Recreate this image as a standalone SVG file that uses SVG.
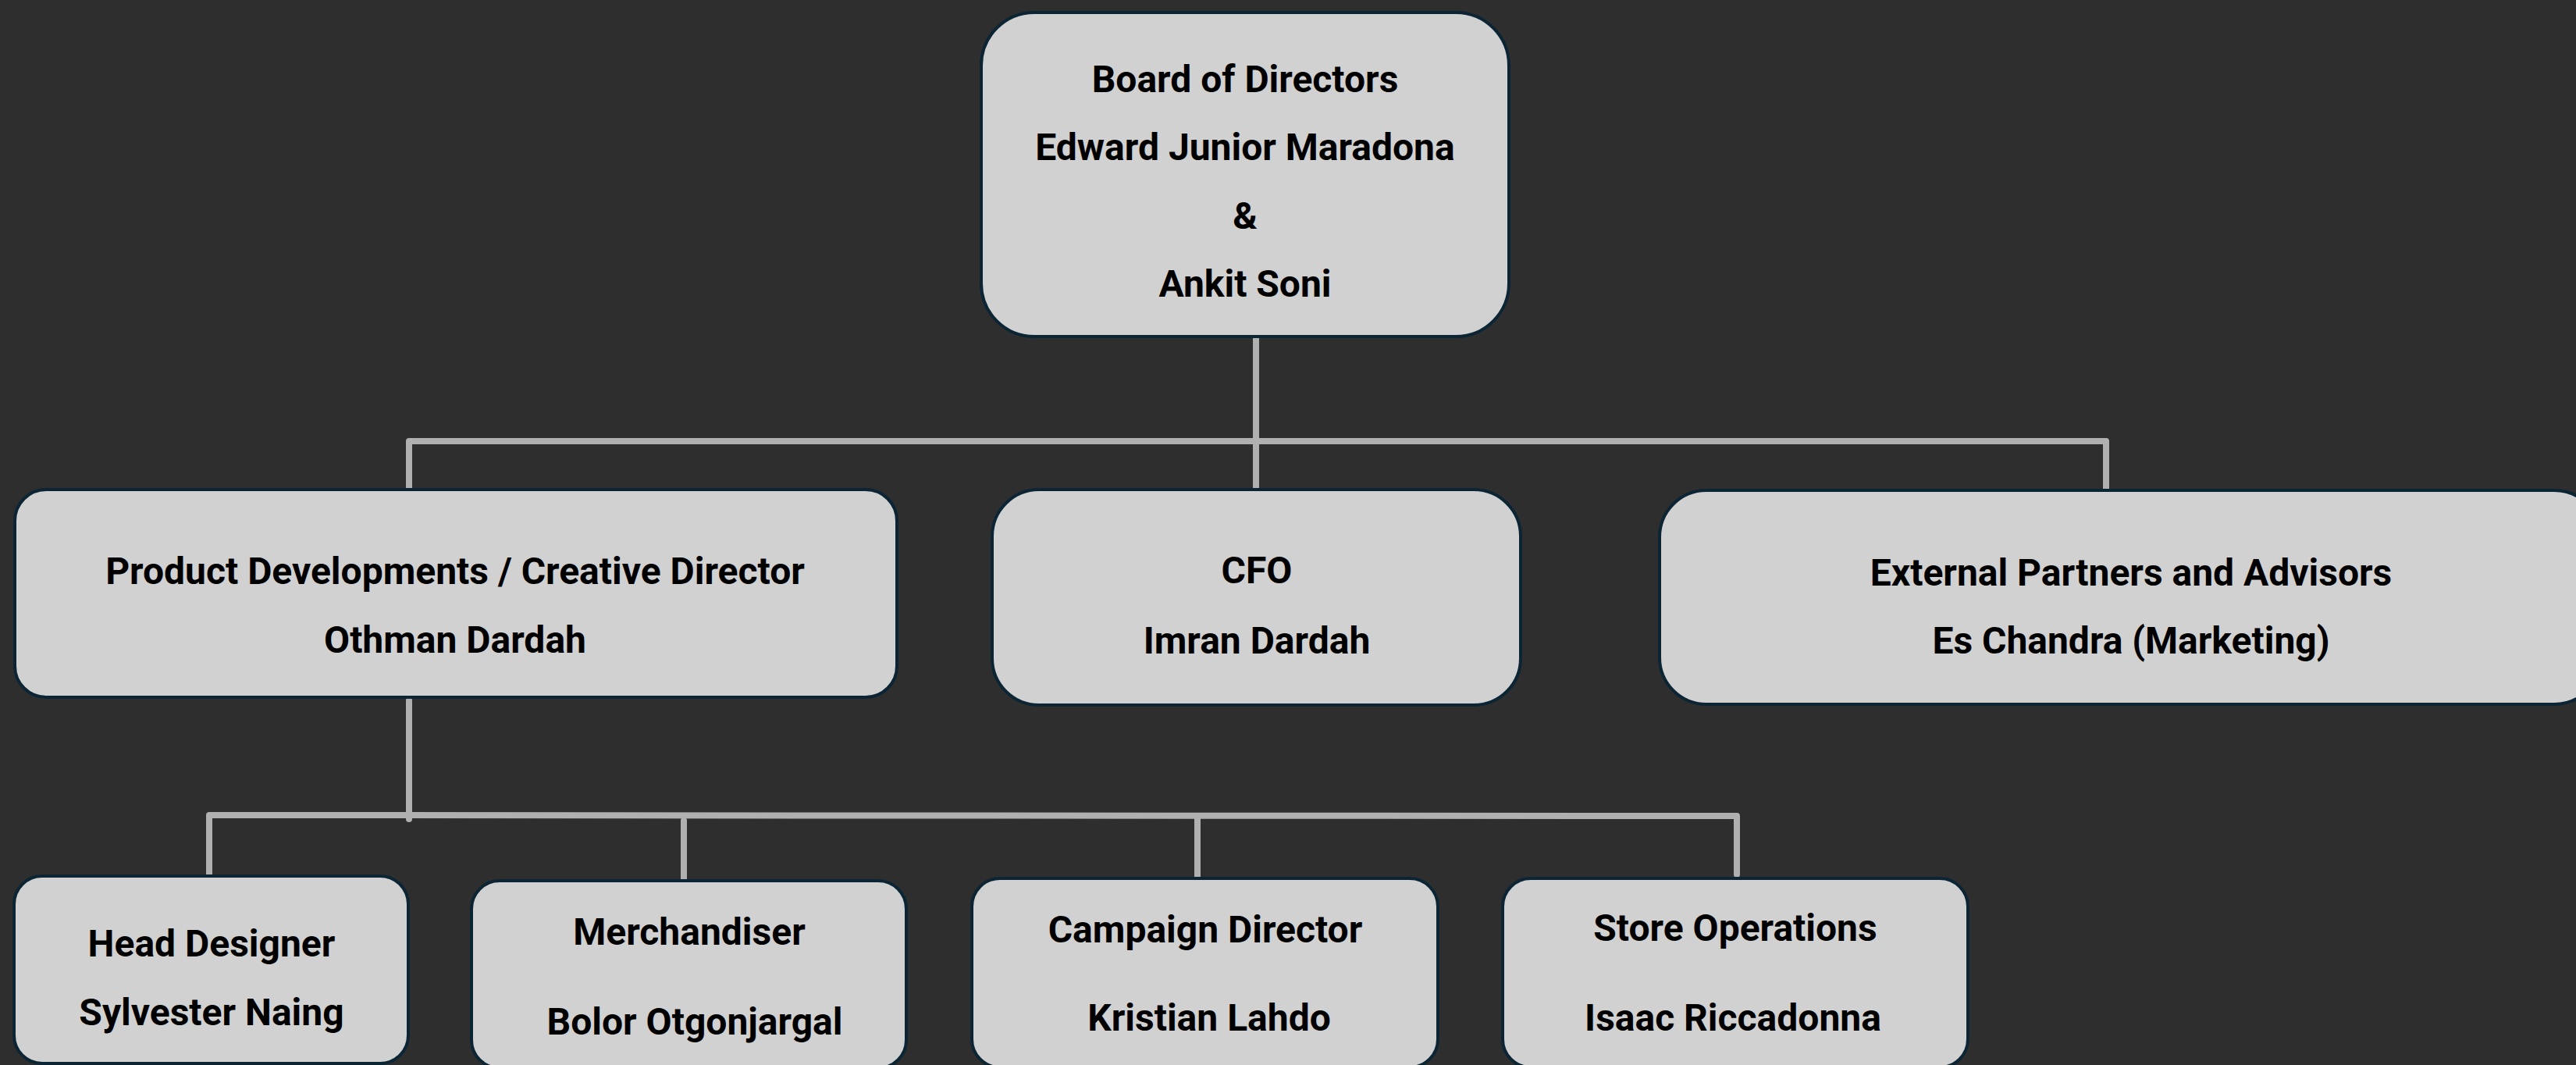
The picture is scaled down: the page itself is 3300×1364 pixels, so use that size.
<svg xmlns="http://www.w3.org/2000/svg" width="3300" height="1364" viewBox="0 0 3300 1364">
  <style>
    .box { fill: #d1d1d1; stroke: #0b2535; stroke-width: 4; }
    .lbl { font-family: Roboto, "Liberation Sans", sans-serif; font-weight: 700; font-size: 48px; fill: #000000; text-anchor: middle; }
    .link { stroke: #b0b0b0; stroke-width: 8; fill: none; stroke-linecap: round; stroke-linejoin: round; }
  </style>
  <rect width="3300" height="1364" fill="#2e2e2e"/>

  <!-- reporting lines -->
  <g id="connectors">
    <path class="link" d="M1609 434 V624"/>
    <path class="link" d="M524 638 V565 H2698 V638"/>
    <path class="link" d="M524 897 V1049"/>
    <path class="link" d="M268 1120 V1044 L2225 1045 V1120"/>
    <path class="link" d="M876 1051 V1126"/>
    <path class="link" d="M1534 1047 V1126"/>
  </g>

  <g id="board">
    <rect class="box" x="1257" y="16" width="676" height="415" rx="68"/>
    <text class="lbl" x="1595" y="118">Board of Directors</text>
    <text class="lbl" x="1595" y="205">Edward Junior Maradona</text>
    <text class="lbl" x="1595" y="293">&amp;</text>
    <text class="lbl" x="1595" y="380">Ankit Soni</text>
  </g>

  <g id="product-creative">
    <rect class="box" x="19" y="627" width="1130" height="266" rx="40"/>
    <text class="lbl" x="583" y="748">Product Developments / Creative Director</text>
    <text class="lbl" x="583" y="836">Othman Dardah</text>
  </g>

  <g id="cfo">
    <rect class="box" x="1271" y="627" width="677" height="276" rx="60"/>
    <text class="lbl" x="1610" y="747">CFO</text>
    <text class="lbl" x="1610" y="837">Imran Dardah</text>
  </g>

  <g id="external">
    <rect class="box" x="2126" y="628" width="1206" height="274" rx="60"/>
    <text class="lbl" x="2730" y="750">External Partners and Advisors</text>
    <text class="lbl" x="2730" y="837">Es Chandra (Marketing)</text>
  </g>

  <g id="head-designer">
    <rect class="box" x="18" y="1122" width="505" height="240" rx="36"/>
    <text class="lbl" x="271" y="1225">Head Designer</text>
    <text class="lbl" x="271" y="1313">Sylvester Naing</text>
  </g>

  <g id="merchandiser">
    <rect class="box" x="604" y="1128" width="557" height="240" rx="36"/>
    <text class="lbl" x="883" y="1210">Merchandiser</text>
    <text class="lbl" x="890" y="1325">Bolor Otgonjargal</text>
  </g>

  <g id="campaign">
    <rect class="box" x="1245" y="1125" width="597" height="242" rx="36"/>
    <text class="lbl" x="1544" y="1207">Campaign Director</text>
    <text class="lbl" x="1549" y="1320">Kristian Lahdo</text>
  </g>

  <g id="store-ops">
    <rect class="box" x="1925" y="1125" width="596" height="242" rx="36"/>
    <text class="lbl" x="2223" y="1205">Store Operations</text>
    <text class="lbl" x="2220" y="1320">Isaac Riccadonna</text>
  </g>
</svg>
